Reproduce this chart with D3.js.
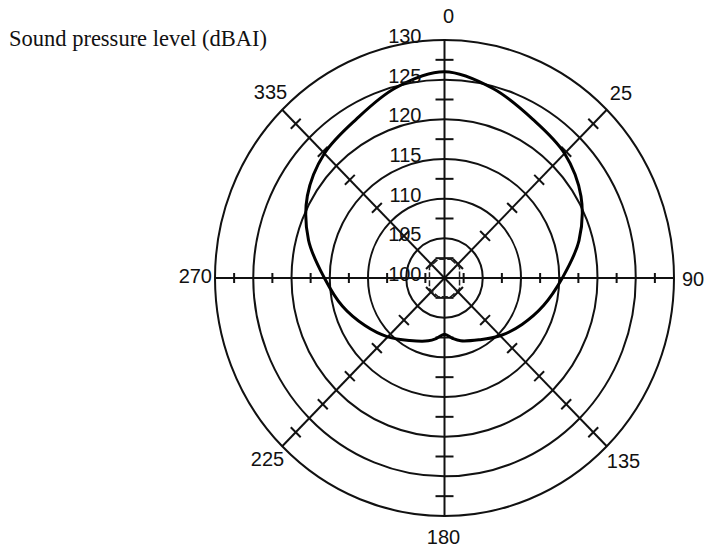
<!DOCTYPE html>
<html>
<head>
<meta charset="utf-8">
<script src="https://cdn.jsdelivr.net/npm/d3@7"></script>
<style>
  body { margin: 0; background: #fff; }
</style>
</head>
<body>
<div id="chart"></div>
<script>
// directivity data, angle in degrees (0 = front, clockwise)
var curveAngles = [0, 15, 30, 45, 60, 75, 90, 105, 120, 135, 150, 165, 172, 180,
                   188, 195, 210, 225, 240, 255, 270, 285, 300, 315, 330, 345];
var curveLevels = [126.0, 124.7, 123.1, 122.2, 120.6, 118.2, 115.4, 113.4, 111.7, 110.3, 109.0, 108.2, 107.7, 107.1,
                   107.7, 108.2, 109.1, 110.5, 112.0, 113.8, 115.7, 118.4, 120.7, 122.2, 123.1, 124.8];

// small polygon near the centre
var innerAngles = [20, 55, 125, 160, 200, 235, 305, 340];
var innerLevels = [102.5, 102.4, 102.4, 102.5, 102.5, 102.4, 102.4, 102.5];

var ringLevels = [105, 110, 115, 120, 125, 130];
var ringLabels = ["100", "105", "110", "115", "120", "125", "130"];
var tickLevels = [102.5, 107.5, 112.5, 117.5, 122.5, 127.5];
var axisAngles = [0, 45, 90, 135, 180, 225, 270, 315];
var angleLabels = ["0", "25", "90", "135", "180", "225", "270", "335"];

var width = 707, height = 550;
var cx = 444.5, cy = 278;

// the plot is slightly taller than wide
var rX = d3.scaleLinear().domain([100, 130]).range([0, 229.5]);
var rY = d3.scaleLinear().domain([100, 130]).range([0, 238]);

function px(a, v) { return cx + rX(v) * Math.sin(a * Math.PI / 180); }
function py(a, v) { return cy - rY(v) * Math.cos(a * Math.PI / 180); }

var svg = d3.select("#chart")
  .append("svg")
  .attr("width", width)
  .attr("height", height);

// rings
svg.selectAll("ellipse.ring")
  .data(ringLevels)
  .enter().append("ellipse")
  .attr("class", "ring")
  .attr("cx", cx)
  .attr("cy", cy)
  .attr("rx", d => rX(d))
  .attr("ry", d => rY(d))
  .attr("fill", "none")
  .attr("stroke", "#111")
  .attr("stroke-width", 2);

// axes
svg.selectAll("line.axis")
  .data(axisAngles)
  .enter().append("line")
  .attr("class", "axis")
  .attr("x1", cx).attr("y1", cy)
  .attr("x2", d => px(d, 130))
  .attr("y2", d => py(d, 130))
  .attr("stroke", "#111")
  .attr("stroke-width", 2);

// ticks across each axis
var tickHalf = { 0: 9, 180: 9, 90: 5, 270: 5 };
var ticks = [];
axisAngles.forEach(function (a) {
  tickLevels.forEach(function (v) { ticks.push({ a: a, v: v }); });
});
svg.selectAll("line.tick")
  .data(ticks)
  .enter().append("line")
  .attr("class", "tick")
  .attr("x1", d => px(d.a, d.v) - (tickHalf[d.a] || 7) * Math.cos(d.a * Math.PI / 180))
  .attr("y1", d => py(d.a, d.v) - (tickHalf[d.a] || 7) * Math.sin(d.a * Math.PI / 180))
  .attr("x2", d => px(d.a, d.v) + (tickHalf[d.a] || 7) * Math.cos(d.a * Math.PI / 180))
  .attr("y2", d => py(d.a, d.v) + (tickHalf[d.a] || 7) * Math.sin(d.a * Math.PI / 180))
  .attr("stroke", "#111")
  .attr("stroke-width", 2);

// data curve
var line = d3.line()
  .x(d => px(d[0], d[1]))
  .y(d => py(d[0], d[1]))
  .curve(d3.curveCatmullRomClosed.alpha(0.5));

svg.append("path")
  .datum(curveAngles.map((a, i) => [a, curveLevels[i]]))
  .attr("d", line)
  .attr("fill", "none")
  .attr("stroke", "#000")
  .attr("stroke-width", 3);

svg.append("path")
  .datum(innerAngles.map((a, i) => [a, innerLevels[i]]))
  .attr("d", d3.line().x(d => px(d[0], d[1])).y(d => py(d[0], d[1])).curve(d3.curveLinearClosed))
  .attr("fill", "none")
  .attr("stroke", "#222")
  .attr("stroke-width", 1.5)
  .attr("stroke-dasharray", "6,2");

// ring labels along the vertical axis
svg.selectAll("text.ring-label")
  .data(ringLabels)
  .enter().append("text")
  .attr("class", "ring-label")
  .attr("x", cx - 23)
  .attr("y", d => py(0, +d) + 3)
  .attr("text-anchor", "end")
  .style("font-family", "'Liberation Sans', Arial, sans-serif")
  .style("font-size", "20px")
  .style("fill", "#111")
  .text(d => d);

// angle labels
var labelPos = {
  0:   { dx: 4, dy: -17, anchor: "middle" },
  45:  { dx: 3, dy: -10, anchor: "start" },
  90:  { dx: 8, dy: 8, anchor: "start" },
  135: { dx: 0, dy: 22, anchor: "start" },
  180: { dx: -1, dy: 28, anchor: "middle" },
  225: { dx: 2, dy: 20, anchor: "end" },
  270: { dx: -3, dy: 5, anchor: "end" },
  315: { dx: 5, dy: -11, anchor: "end" }
};
svg.selectAll("text.angle-label")
  .data(axisAngles)
  .enter().append("text")
  .attr("class", "angle-label")
  .attr("x", d => px(d, 130) + labelPos[d].dx)
  .attr("y", d => py(d, 130) + labelPos[d].dy)
  .attr("text-anchor", d => labelPos[d].anchor)
  .style("font-family", "'Liberation Sans', Arial, sans-serif")
  .style("font-size", "20px")
  .style("fill", "#111")
  .text((d, i) => angleLabels[i]);

// title
svg.append("text")
  .attr("x", 9)
  .attr("y", 46)
  .style("font-family", "'Liberation Serif', 'Times New Roman', serif")
  .style("font-size", "22.5px")
  .style("fill", "#111")
  .text("Sound pressure level (dBAI)");
</script>
</body>
</html>
